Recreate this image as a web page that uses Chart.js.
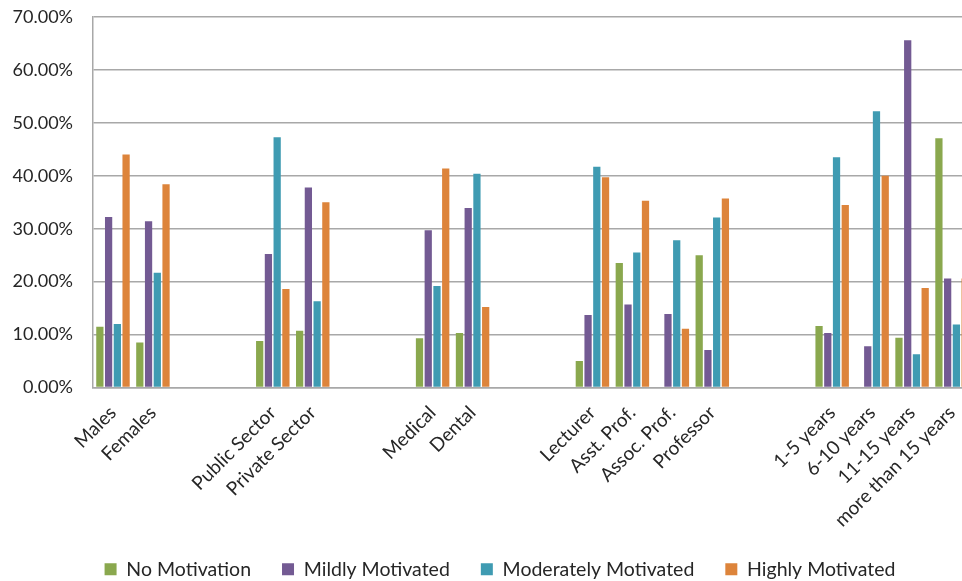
<!DOCTYPE html>
<html>
<head>
<meta charset="utf-8">
<script src="https://cdn.jsdelivr.net/npm/chart.js@4/dist/chart.umd.min.js"></script>
<style>
  html, body { margin: 0; padding: 0; background: #ffffff; overflow: hidden; width: 962px; height: 581px; }
  #wrap { position: absolute; left: 0; top: 0; width: 1000px; height: 589px; }
</style>
</head>
<body>
<div id="wrap"><canvas id="c" width="1000" height="589"></canvas></div>
<script>
const categories = ["Males", "Females", "", "", "Public Sector", "Private Sector", "", "", "Medical", "Dental", "", "",
  "Lecturer", "Asst. Prof.", "Assoc. Prof.", "Professor", "", "", "1-5 years", "6-10 years", "11-15 years", "more than 15 years"];
const seriesNames = ["No Motivation", "Mildly Motivated", "Moderately Motivated", "Highly Motivated"];
const noMotivation = [11.5, 8.5, null, null, 8.8, 10.7, null, null, 9.3, 10.3, null, null,
  5.0, 23.5, 0, 25.0, null, null, 11.6, 0, 9.4, 47.1];
const mildlyMotivated = [32.2, 31.4, null, null, 25.2, 37.8, null, null, 29.7, 33.9, null, null,
  13.7, 15.7, 13.9, 7.1, null, null, 10.3, 7.8, 65.6, 20.6];
const moderatelyMotivated = [12.0, 21.7, null, null, 47.3, 16.3, null, null, 19.2, 40.4, null, null,
  41.7, 25.5, 27.8, 32.1, null, null, 43.5, 52.2, 6.3, 11.9];
const highlyMotivated = [44.0, 38.4, null, null, 18.6, 35.0, null, null, 41.4, 15.2, null, null,
  39.7, 35.3, 11.1, 35.7, null, null, 34.5, 40.0, 18.8, 20.6];
const yTickValues = [0, 10, 20, 30, 40, 50, 60, 70];

const colors = ["#8aa84e", "#735a93", "#3f9bb2", "#dd843b"];
const seriesData = [noMotivation, mildlyMotivated, moderatelyMotivated, highlyMotivated];

const FONT = "Lato, 'Open Sans', sans-serif";
const gridColor = "#a8a8a8";

new Chart(document.getElementById("c"), {
  type: "bar",
  data: {
    labels: categories,
    datasets: seriesNames.map((n, i) => ({
      label: n,
      data: seriesData[i],
      backgroundColor: colors[i],
      borderWidth: 0,
      categoryPercentage: 0.875,
      barPercentage: 0.83
    }))
  },
  options: {
    responsive: false,
    animation: false,
    devicePixelRatio: 1,
    layout: { padding: { top: 17, left: 0, right: 0, bottom: 0 } },
    plugins: {
      legend: {
        position: "bottom",
        labels: {
          boxWidth: 12,
          boxHeight: 12,
          padding: 31,
          color: "#262626",
          font: { family: FONT, size: 19.5 }
        }
      },
      tooltip: { enabled: false }
    },
    scales: {
      x: {
        grid: { display: false, drawTicks: false },
        border: { display: true, color: gridColor, width: 1.5 },
        ticks: {
          autoSkip: false,
          maxRotation: 45,
          minRotation: 45,
          padding: 14,
          color: "#262626",
          font: { family: FONT, size: 19 }
        },
        afterFit: s => { s.height = 141; }
      },
      y: {
        min: 0,
        max: 70,
        afterBuildTicks: s => { s.ticks = yTickValues.map(v => ({ value: v })); },
        grid: { color: gridColor, lineWidth: 1.5, drawTicks: true, tickLength: 17, tickColor: "rgba(0,0,0,0)" },
        border: { display: true, color: gridColor, width: 1.5 },
        ticks: {
          padding: 3,
          color: "#262626",
          font: { family: FONT, size: 18 },
          callback: v => v.toFixed(2) + "%"
        },
        afterFit: s => { s.width = 93; }
      },
      yRight: {
        position: "right",
        display: true,
        grid: { display: false, drawTicks: false },
        border: { display: false },
        ticks: { display: false },
        afterFit: s => { s.width = 28; }
      }
    }
  }
});
</script>
</body>
</html>
